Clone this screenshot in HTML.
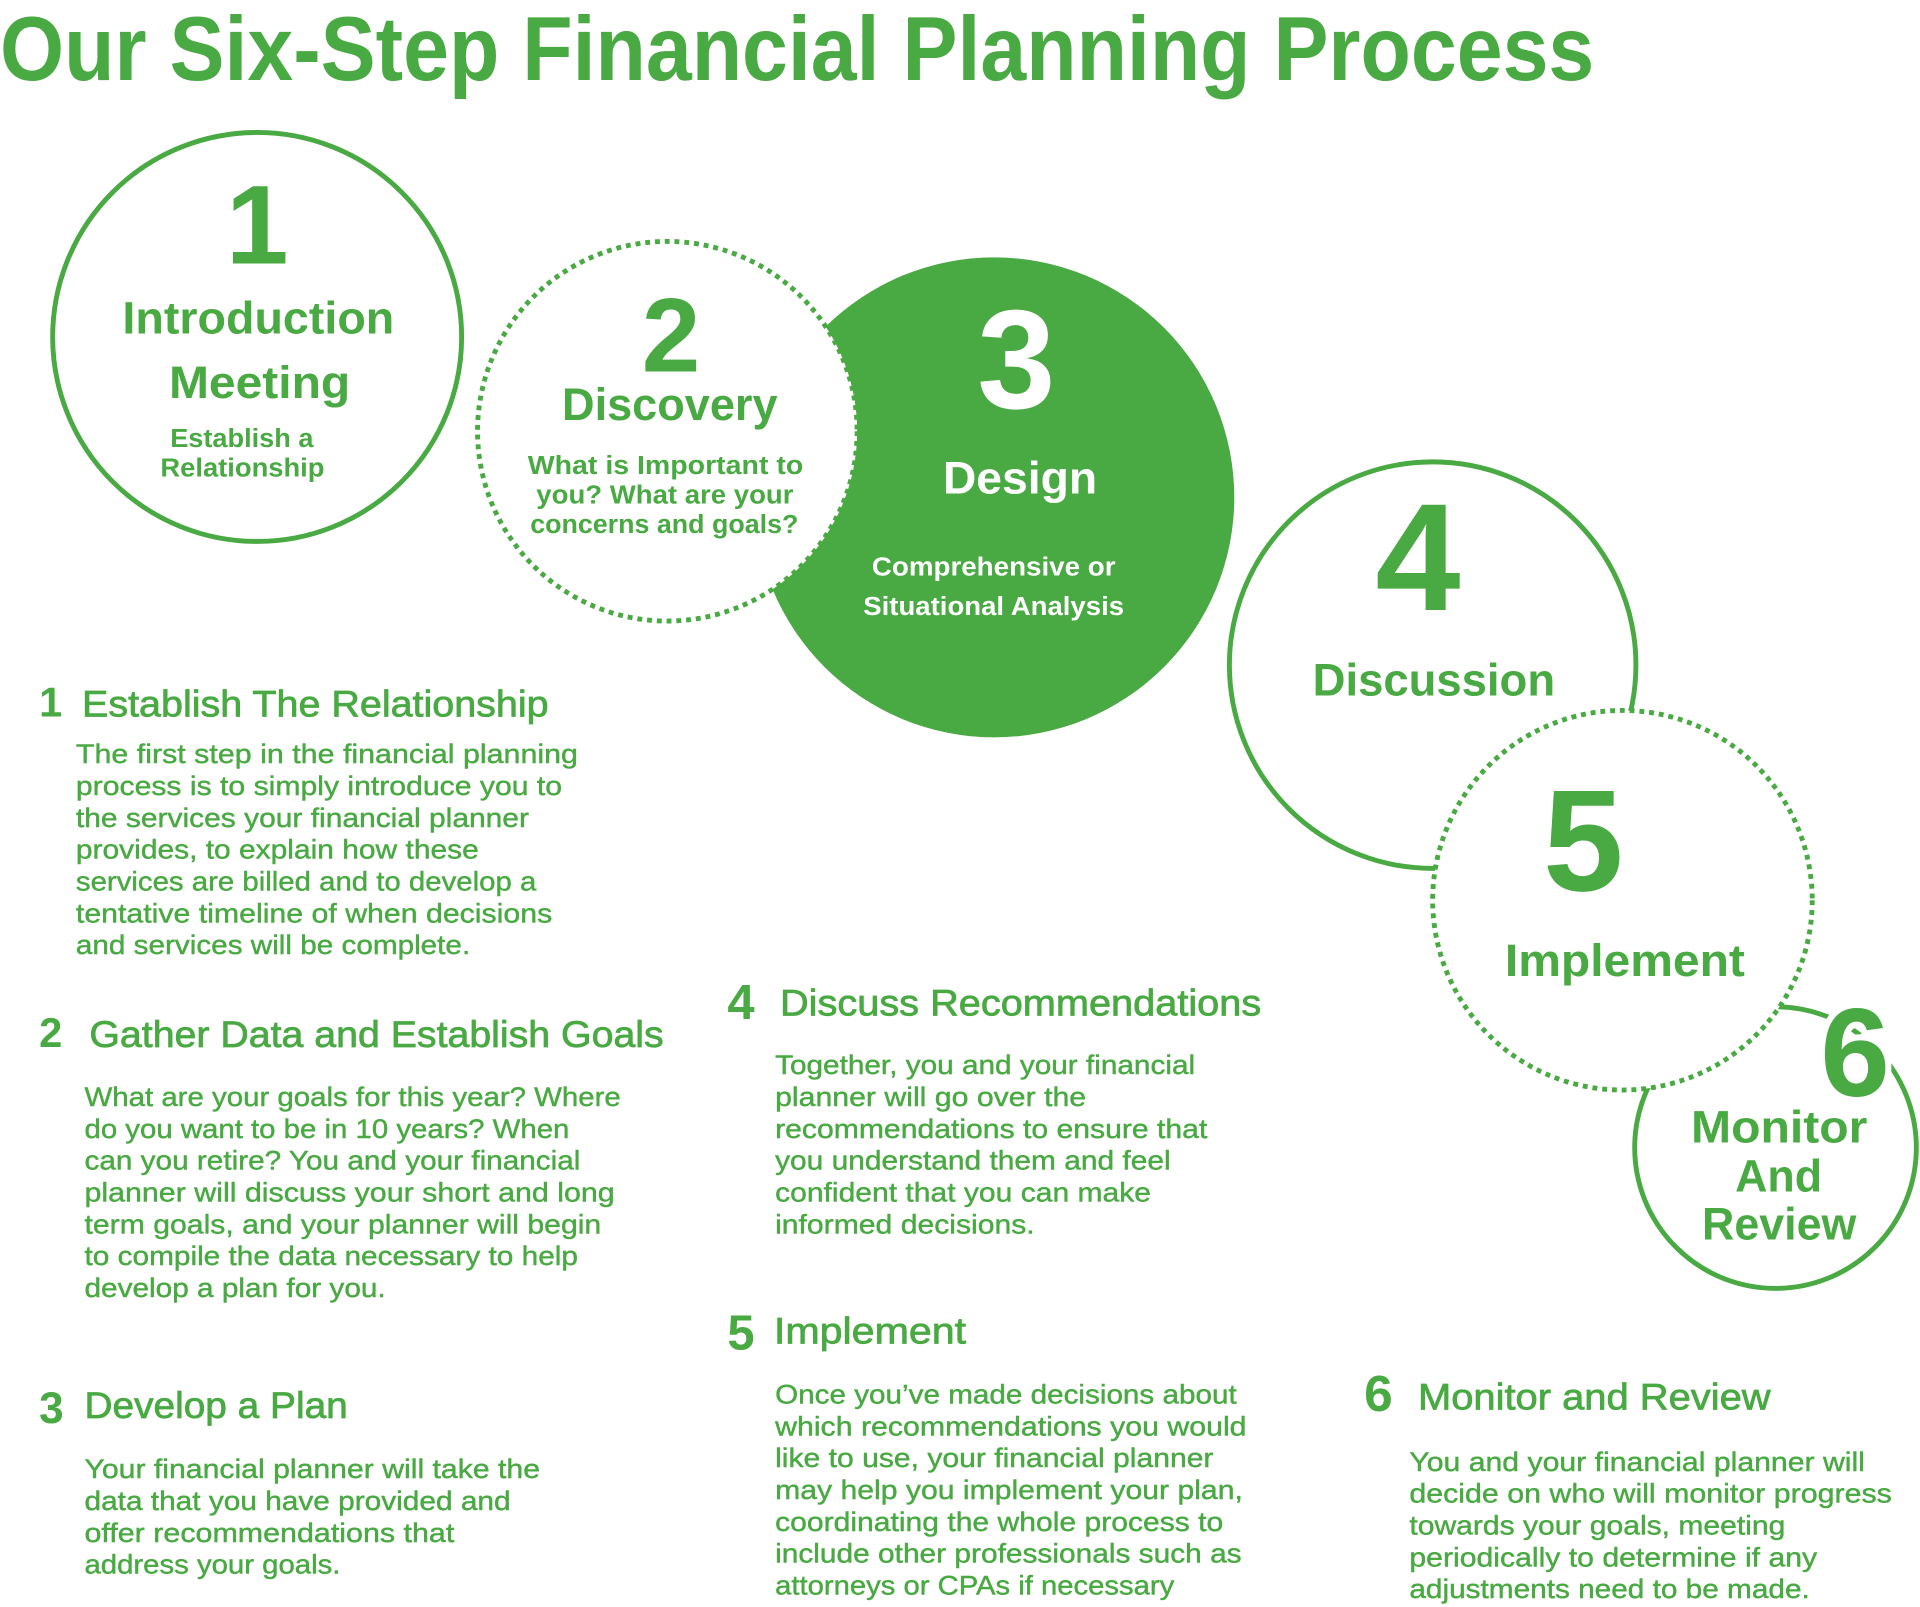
<!DOCTYPE html>
<html><head><meta charset="utf-8"><style>
html,body{margin:0;padding:0;background:#fff;}
svg{display:block;}
text{font-family:"Liberation Sans",sans-serif;fill:#49a942;}
.b{font-weight:bold;}
.body{font-size:22px;stroke:#49a942;stroke-width:0.35;}
.h{font-size:30px;stroke:#49a942;stroke-width:0.6;}
.cl{font-size:37px;font-weight:bold;}
.cs{font-size:21px;font-weight:bold;}
</style></head><body>
<svg width="1920" height="1607" viewBox="0 0 1568 1312" xmlns="http://www.w3.org/2000/svg">
<rect width="1568" height="1312" fill="#fff"/>
<text x="0" y="65" class="b" font-size="74" textLength="1302" lengthAdjust="spacingAndGlyphs">Our Six-Step Financial Planning Process</text>

<!-- circles -->
<circle cx="210" cy="275" r="167" fill="none" stroke="#49a942" stroke-width="4"/>
<circle cx="812" cy="406" r="196" fill="#49a942"/>
<circle cx="545" cy="352" r="155" fill="#fff" stroke="#49a942" stroke-width="4" stroke-dasharray="4 4"/>
<circle cx="1170" cy="543" r="166" fill="none" stroke="#49a942" stroke-width="4"/>
<circle cx="1450" cy="937" r="115" fill="none" stroke="#49a942" stroke-width="4"/>
<circle cx="1325" cy="735" r="155" fill="#fff" stroke="#49a942" stroke-width="4" stroke-dasharray="4 4"/>

<!-- circle 1 -->
<text x="210" y="215" text-anchor="middle" class="b" font-size="92">1</text>
<text x="100" y="272" class="cl" textLength="222" lengthAdjust="spacingAndGlyphs">Introduction</text>
<text x="138" y="325" class="cl" textLength="148" lengthAdjust="spacingAndGlyphs">Meeting</text>
<text x="139" y="365" class="cs" textLength="117" lengthAdjust="spacingAndGlyphs">Establish a</text>
<text x="131" y="389" class="cs" textLength="134" lengthAdjust="spacingAndGlyphs">Relationship</text>
<!-- circle 2 -->
<text x="548" y="303" text-anchor="middle" class="b" font-size="86">2</text>
<text x="459" y="343" class="cl" textLength="176" lengthAdjust="spacingAndGlyphs">Discovery</text>
<text x="431" y="387" class="cs" textLength="225" lengthAdjust="spacingAndGlyphs">What is Important to</text>
<text x="438" y="411" class="cs" textLength="210" lengthAdjust="spacingAndGlyphs">you? What are your</text>
<text x="433" y="435" class="cs" textLength="219" lengthAdjust="spacingAndGlyphs">concerns and goals?</text>
<!-- circle 3 -->
<text x="830" y="333" text-anchor="middle" class="b" font-size="115" style="fill:#fff">3</text>
<text x="770" y="403" class="cl" style="fill:#fff" textLength="126" lengthAdjust="spacingAndGlyphs">Design</text>
<text x="712" y="470" class="cs" style="fill:#fff" textLength="199" lengthAdjust="spacingAndGlyphs">Comprehensive or</text>
<text x="705" y="502" class="cs" style="fill:#fff" textLength="213" lengthAdjust="spacingAndGlyphs">Situational Analysis</text>
<!-- circle 4 -->
<text x="1158" y="498" text-anchor="middle" class="b" font-size="125">4</text>
<text x="1072" y="568" class="cl" textLength="198" lengthAdjust="spacingAndGlyphs">Discussion</text>
<!-- circle 5 -->
<text x="1293" y="727" text-anchor="middle" class="b" font-size="118">5</text>
<text x="1229" y="797" class="cl" textLength="196" lengthAdjust="spacingAndGlyphs">Implement</text>
<!-- circle 6 -->
<text x="1515" y="895" text-anchor="middle" class="b" font-size="102" style="stroke:#fff;stroke-width:10;paint-order:stroke">6</text>
<text x="1381" y="933" class="cl" textLength="144" lengthAdjust="spacingAndGlyphs">Monitor</text>
<text x="1417" y="973" class="cl" textLength="71" lengthAdjust="spacingAndGlyphs">And</text>
<text x="1390" y="1012" class="cl" textLength="126" lengthAdjust="spacingAndGlyphs">Review</text>

<!-- section 1 -->
<text x="32" y="585" class="b" font-size="34">1</text>
<text x="67" y="585" class="h" textLength="381" lengthAdjust="spacingAndGlyphs">Establish The Relationship</text>
<text x="62" y="623" class="body" textLength="410" lengthAdjust="spacingAndGlyphs">The first step in the financial planning</text>
<text x="62" y="649" class="body" textLength="397" lengthAdjust="spacingAndGlyphs">process is to simply introduce you to</text>
<text x="62" y="675" class="body" textLength="370" lengthAdjust="spacingAndGlyphs">the services your financial planner</text>
<text x="62" y="701" class="body" textLength="329" lengthAdjust="spacingAndGlyphs">provides, to explain how these</text>
<text x="62" y="727" class="body" textLength="376" lengthAdjust="spacingAndGlyphs">services are billed and to develop a</text>
<text x="62" y="753" class="body" textLength="389" lengthAdjust="spacingAndGlyphs">tentative timeline of when decisions</text>
<text x="62" y="779" class="body" textLength="322" lengthAdjust="spacingAndGlyphs">and services will be complete.</text>

<!-- section 2 -->
<text x="32" y="855" class="b" font-size="34">2</text>
<text x="73" y="855" class="h" textLength="469" lengthAdjust="spacingAndGlyphs">Gather Data and Establish Goals</text>
<text x="69" y="903" class="body" textLength="438" lengthAdjust="spacingAndGlyphs">What are your goals for this year? Where</text>
<text x="69" y="929" class="body" textLength="396" lengthAdjust="spacingAndGlyphs">do you want to be in 10 years? When</text>
<text x="69" y="955" class="body" textLength="405" lengthAdjust="spacingAndGlyphs">can you retire? You and your financial</text>
<text x="69" y="981" class="body" textLength="433" lengthAdjust="spacingAndGlyphs">planner will discuss your short and long</text>
<text x="69" y="1007" class="body" textLength="422" lengthAdjust="spacingAndGlyphs">term goals, and your planner will begin</text>
<text x="69" y="1033" class="body" textLength="403" lengthAdjust="spacingAndGlyphs">to compile the data necessary to help</text>
<text x="69" y="1059" class="body" textLength="246" lengthAdjust="spacingAndGlyphs">develop a plan for you.</text>

<!-- section 3 -->
<text x="32" y="1162" class="b" font-size="36">3</text>
<text x="69" y="1158" class="h" textLength="215" lengthAdjust="spacingAndGlyphs">Develop a Plan</text>
<text x="69" y="1207" class="body" textLength="372" lengthAdjust="spacingAndGlyphs">Your financial planner will take the</text>
<text x="69" y="1233" class="body" textLength="348" lengthAdjust="spacingAndGlyphs">data that you have provided and</text>
<text x="69" y="1259" class="body" textLength="302" lengthAdjust="spacingAndGlyphs">offer recommendations that</text>
<text x="69" y="1285" class="body" textLength="209" lengthAdjust="spacingAndGlyphs">address your goals.</text>

<!-- section 4 -->
<text x="594" y="832" class="b" font-size="40">4</text>
<text x="637" y="829" class="h" textLength="393" lengthAdjust="spacingAndGlyphs">Discuss Recommendations</text>
<text x="633" y="877" class="body" textLength="343" lengthAdjust="spacingAndGlyphs">Together, you and your financial</text>
<text x="633" y="903" class="body" textLength="254" lengthAdjust="spacingAndGlyphs">planner will go over the</text>
<text x="633" y="929" class="body" textLength="353" lengthAdjust="spacingAndGlyphs">recommendations to ensure that</text>
<text x="633" y="955" class="body" textLength="323" lengthAdjust="spacingAndGlyphs">you understand them and feel</text>
<text x="633" y="981" class="body" textLength="307" lengthAdjust="spacingAndGlyphs">confident that you can make</text>
<text x="633" y="1007" class="body" textLength="212" lengthAdjust="spacingAndGlyphs">informed decisions.</text>

<!-- section 5 -->
<text x="594" y="1102" class="b" font-size="40">5</text>
<text x="632" y="1097" class="h" textLength="157" lengthAdjust="spacingAndGlyphs">Implement</text>
<text x="633" y="1146" class="body" textLength="377" lengthAdjust="spacingAndGlyphs">Once you’ve made decisions about</text>
<text x="633" y="1172" class="body" textLength="385" lengthAdjust="spacingAndGlyphs">which recommendations you would</text>
<text x="633" y="1198" class="body" textLength="358" lengthAdjust="spacingAndGlyphs">like to use, your financial planner</text>
<text x="633" y="1224" class="body" textLength="382" lengthAdjust="spacingAndGlyphs">may help you implement your plan,</text>
<text x="633" y="1250" class="body" textLength="366" lengthAdjust="spacingAndGlyphs">coordinating the whole process to</text>
<text x="633" y="1276" class="body" textLength="381" lengthAdjust="spacingAndGlyphs">include other professionals such as</text>
<text x="633" y="1302" class="body" textLength="326" lengthAdjust="spacingAndGlyphs">attorneys or CPAs if necessary</text>

<!-- section 6 -->
<text x="1114" y="1152" class="b" font-size="42">6</text>
<text x="1158" y="1151" class="h" textLength="288" lengthAdjust="spacingAndGlyphs">Monitor and Review</text>
<text x="1151" y="1201" class="body" textLength="372" lengthAdjust="spacingAndGlyphs">You and your financial planner will</text>
<text x="1151" y="1227" class="body" textLength="394" lengthAdjust="spacingAndGlyphs">decide on who will monitor progress</text>
<text x="1151" y="1253" class="body" textLength="307" lengthAdjust="spacingAndGlyphs">towards your goals, meeting</text>
<text x="1151" y="1279" class="body" textLength="333" lengthAdjust="spacingAndGlyphs">periodically to determine if any</text>
<text x="1151" y="1305" class="body" textLength="327" lengthAdjust="spacingAndGlyphs">adjustments need to be made.</text>
</svg>
</body></html>
